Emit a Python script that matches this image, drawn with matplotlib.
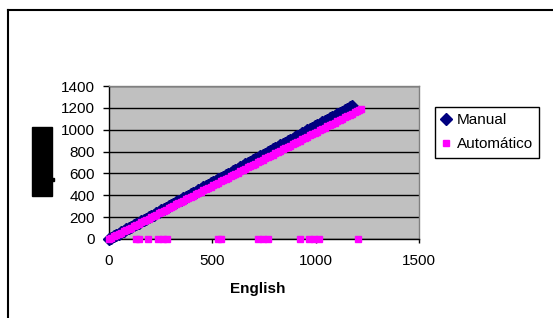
import matplotlib.pyplot as plt
from matplotlib.lines import Line2D
from matplotlib.patches import Rectangle

plt.rcParams['font.family'] = ['Liberation Sans', 'DejaVu Sans']
plt.rcParams['font.size'] = 11

# data
manual_x = [0, 12, 24, 36, 48, 60, 72, 84, 96, 108, 120, 132, 144, 156, 168, 180, 192,
            204, 216, 228, 240, 252, 264, 276, 288, 300, 312, 324, 336, 348, 360, 372,
            384, 396, 408, 420, 432, 444, 456, 468, 480, 492, 504, 516, 528, 540, 552,
            564, 576, 588, 600, 612, 624, 636, 648, 660, 672, 684, 696, 708, 720, 732,
            744, 756, 768, 780, 792, 804, 816, 828, 840, 852, 864, 876, 888, 900, 912,
            924, 936, 948, 960, 972, 984, 996, 1008, 1020, 1032, 1044, 1056, 1068, 1080,
            1092, 1104, 1116, 1128, 1140, 1152, 1164, 1176]
manual_y = [0, 12, 25, 37, 50, 62, 74, 87, 99, 112, 124, 136, 149, 161, 174, 186, 199,
            211, 223, 236, 248, 261, 273, 285, 298, 310, 323, 335, 347, 360, 372, 385,
            397, 409, 422, 434, 447, 459, 472, 484, 496, 509, 521, 534, 546, 558, 571,
            583, 596, 608, 620, 633, 645, 658, 670, 682, 695, 707, 720, 732, 744, 757,
            769, 782, 794, 807, 819, 831, 844, 856, 869, 881, 893, 906, 918, 931, 943,
            955, 968, 980, 993, 1005, 1017, 1030, 1042, 1055, 1067, 1079, 1092, 1104, 1117,
            1129, 1142, 1154, 1166, 1179, 1191, 1204, 1216]

auto_x = [0, 12, 24, 36, 48, 60, 72, 84, 96, 108, 120, 132, 144, 156, 168, 180, 192,
          204, 216, 228, 240, 252, 264, 276, 288, 300, 312, 324, 336, 348, 360, 372,
          384, 396, 408, 420, 432, 444, 456, 468, 480, 492, 504, 516, 528, 540, 552,
          564, 576, 588, 600, 612, 624, 636, 648, 660, 672, 684, 696, 708, 720, 732,
          744, 756, 768, 780, 792, 804, 816, 828, 840, 852, 864, 876, 888, 900, 912,
          924, 936, 948, 960, 972, 984, 996, 1008, 1020, 1032, 1044, 1056, 1068, 1080,
          1092, 1104, 1116, 1128, 1140, 1152, 1164, 1176, 1188, 1200, 1212, 1218,
          131, 146, 189, 238, 262, 282, 529, 544, 723, 743, 767, 922, 966, 990, 1015, 1204]
auto_y = [0, 12, 23, 35, 47, 59, 70, 82, 94, 105, 117, 129, 140, 152, 164, 176, 187,
          199, 211, 222, 234, 246, 257, 269, 281, 293, 304, 316, 328, 339, 351, 363,
          374, 386, 398, 410, 421, 433, 445, 456, 468, 480, 491, 503, 515, 527, 538,
          550, 562, 573, 585, 597, 608, 620, 632, 644, 655, 667, 679, 690, 702, 714,
          725, 737, 749, 761, 772, 784, 796, 807, 819, 831, 842, 854, 866, 878, 889,
          901, 913, 924, 936, 948, 959, 971, 983, 995, 1006, 1018, 1030, 1041, 1053,
          1065, 1076, 1088, 1100, 1112, 1123, 1135, 1147, 1158, 1170, 1182, 1188,
          0, 0, 0, 0, 0, 0, 0, 0, 0, 0, 0, 0, 0, 0, 0, 0]

W, H = 553, 318
fig = plt.figure(figsize=(W / 100, H / 100), dpi=100)

# outer chart frame (top and left edges visible)
fig.add_artist(Line2D([8 / W, 1], [1 - 10 / H, 1 - 10 / H], color='black', lw=1.5))
fig.add_artist(Line2D([8 / W, 8 / W], [0, 1 - 10 / H], color='black', lw=1.5))

# black block where the y title should be
fig.add_artist(Rectangle((32 / W, 1 - 196 / H), 20 / W, 69 / H, color='black'))
fig.add_artist(Rectangle((51 / W, 1 - 181 / H), 2.5 / W, 3 / H, color='black'))

ax = fig.add_axes([109 / W, 1 - 239 / H, 310 / W, 153 / H])
ax.set_facecolor('#c0c0c0')

ax.plot(manual_x, manual_y, linestyle='none', marker='D', markersize=6.5,
        color='#000080', label='Manual', zorder=3, clip_on=False)
ax.plot(auto_x, auto_y, linestyle='none', marker='s', markersize=4.6,
        color='#ff00ff', label='Automático', zorder=4, clip_on=False)

ax.set_xlim(0, 1500)
ax.set_ylim(0, 1400)
ax.set_xticks([0, 500, 1000, 1500])
ax.set_yticks(range(0, 1401, 200))
ax.yaxis.grid(True, color='black', lw=1)
ax.set_axisbelow(True)
ax.tick_params(axis='y', length=4, pad=6, width=1)
ax.tick_params(axis='x', length=3, pad=8, width=1)

for s in ['top', 'right']:
    ax.spines[s].set_color('#808080')
    ax.spines[s].set_linewidth(1)
for s in ['left', 'bottom']:
    ax.spines[s].set_color('black')
    ax.spines[s].set_linewidth(1)

fig.text(258 / W, 1 - 289 / H, 'English', ha='center', va='center', weight='bold')

leg = ax.legend(loc='upper left', bbox_to_anchor=(435 / W, 1 - 107 / H),
                bbox_transform=fig.transFigure, frameon=True, fancybox=False,
                edgecolor='black', framealpha=1, handlelength=0.6, handletextpad=0.4,
                labelspacing=0.65, borderpad=0.42, borderaxespad=0)
leg.get_frame().set_linewidth(1)

plt.savefig('out.png', dpi=100)
